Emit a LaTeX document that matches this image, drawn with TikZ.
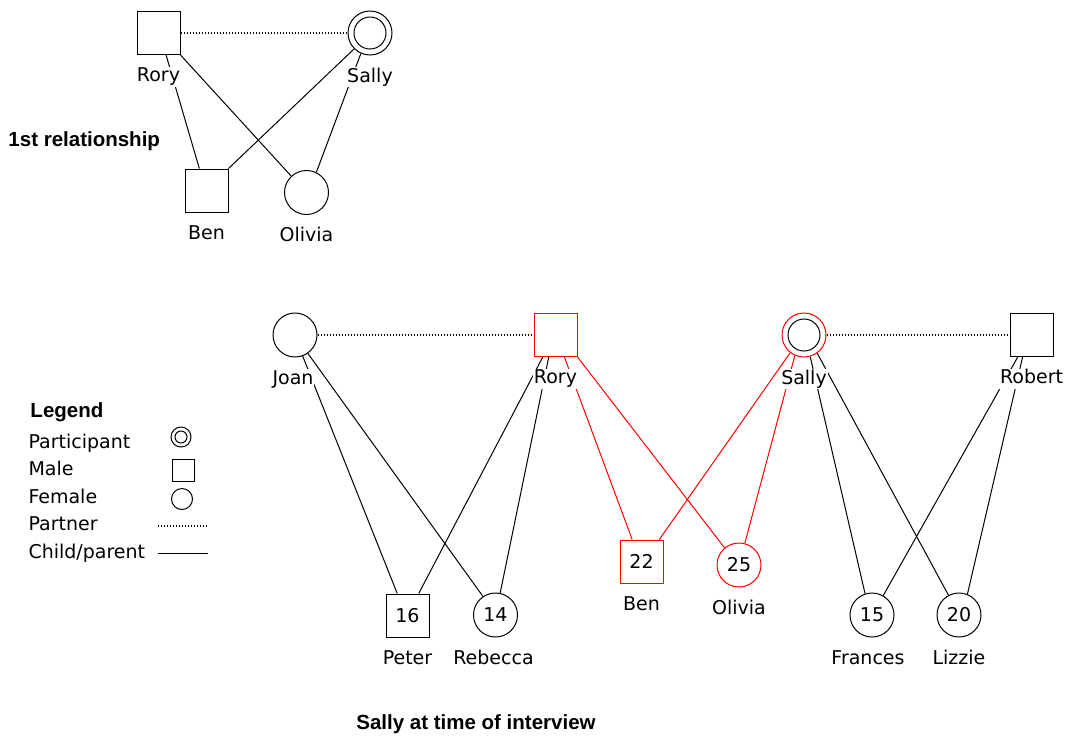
\documentclass[tikz,border=0pt]{standalone}
\usepackage{fontspec}
\setmainfont{DejaVu Sans}
\newfontfamily\headfont{Liberation Sans}
\usetikzlibrary{positioning}

\begin{document}
\begin{tikzpicture}[x=1pt, y=-1pt, line width=1pt,
  font=\fontsize{19}{23}\selectfont,
  male/.style={draw, rectangle, minimum size=43pt, inner sep=0pt},
  female/.style={draw, circle, minimum size=44pt, inner sep=0pt},
  participant/.style={female, path picture={\draw[black] (path picture bounding box.center) circle (#1);}},
  participant/.default=16pt,
  focus/.style={draw=red},
  partner/.style={line width=1.2pt, dash pattern=on 1.3pt off 1.7pt},
  tag/.style={fill=white, inner sep=1pt, text height=14pt, text depth=4pt},
  heading/.style={inner sep=0pt, font=\headfont\bfseries\fontsize{20.5}{24}\selectfont},
  item/.style={inner sep=0pt, anchor=base west}]
\useasboundingbox (0,0) rectangle (1072,740);

\node[male] (rory1) at (158.5,33) {};
\node[participant] (sally1) at (370,33) {};
\node[male] (ben1) at (206.5,190.5) {};
\node[female] (olivia1) at (306.5,192.5) {};
\draw[partner] (rory1) -- (sally1);
\draw (rory1.-71) -- (ben1.108);
\draw (rory1.south east) -- (olivia1.133);
\draw (sally1.-135) -- (ben1.north east);
\draw (sally1.-114) -- (olivia1.64);
\node[tag, below=11pt of rory1] (rory1l) {Rory};
\node[tag, below=11pt of sally1] (sally1l) {Sally};
\node[tag, below=11pt of ben1] (ben1l) {Ben};
\node[tag, below=11pt of olivia1] (olivia1l) {Olivia};
\node[heading, anchor=base west] (rel1) at (8,146) {1st relationship};

\node[female] (joan) at (295,335) {};
\node[male, focus] (rory) at (555.5,335) {};
\node[participant, focus] (sally) at (804,335) {};
\node[male] (robert) at (1031.5,335) {};
\node[male] (peter) at (407.5,615.5) {16};
\node[female] (rebecca) at (495.5,615) {14};
\node[male, focus] (ben) at (641.5,561.5) {22};
\node[female, focus] (olivia) at (739,565) {25};
\node[female] (frances) at (872,615) {15};
\node[female] (lizzie) at (959,615) {20};

\draw[partner] (joan) -- (rory);
\draw[partner] (sally) -- (robert);
\draw (joan.-70) -- (peter.115);
\draw (joan.-55) -- (rebecca.124);
\draw (rory.-120) -- (peter.63);
\draw (rory.-107) -- (rebecca.78);
\draw[focus] (rory.-68) -- (ben.113);
\draw[focus] (rory.south east) -- (olivia.130);
\draw[focus] (sally.-128) -- (ben.51);
\draw[focus] (sally.-114) -- (olivia.75);
\draw (sally.-74) -- (frances.108);
\draw (sally.-54) -- (lizzie.118);
\draw (robert.-122) -- (frances.60);
\draw (robert.-112) -- (lizzie.68);

\node[tag, below=11pt of joan, xshift=-2pt] (joanl) {Joan};
\node[tag, below=11pt of rory] (roryl) {Rory};
\node[tag, below=11pt of sally] (sallyl) {Sally};
\node[tag, below=11pt of robert] (robertl) {Robert};
\node[tag, below=11pt of peter] (peterl) {Peter};
\node[tag, below=11pt of rebecca, xshift=-2pt] (rebeccal) {Rebecca};
\node[tag, below=11pt of ben] (benl) {Ben};
\node[tag, below=11pt of olivia] (olivial) {Olivia};
\node[tag, below=11pt of frances, xshift=-4pt] (francesl) {Frances};
\node[tag, below=11pt of lizzie] (lizziel) {Lizzie};

\node[heading, anchor=base west] (legend) at (30,417) {Legend};
\node[item] (lpart) at (28,448) {Participant};
\node[item] (lmale) at (28,475) {Male};
\node[item] (lfemale) at (28,503) {Female};
\node[item] (lpartner) at (28,530) {Partner};
\node[item] (lchild) at (28,558) {Child/parent};
\node[participant=6pt, minimum size=20pt] (spart) at (181,437) {};
\node[male, minimum size=22pt] (smale) at (183,470) {};
\node[female, minimum size=21pt] (sfemale) at (182,499) {};
\coordinate (sp1) at (158,526);
\coordinate (sp2) at (208,526);
\coordinate (sc1) at (158,553);
\coordinate (sc2) at (208,553);
\draw[partner] (sp1) -- (sp2);
\draw (sc1) -- (sc2);

\node[heading, anchor=base] (title) at (476,729) {Sally at time of interview};
\end{tikzpicture}
\end{document}
